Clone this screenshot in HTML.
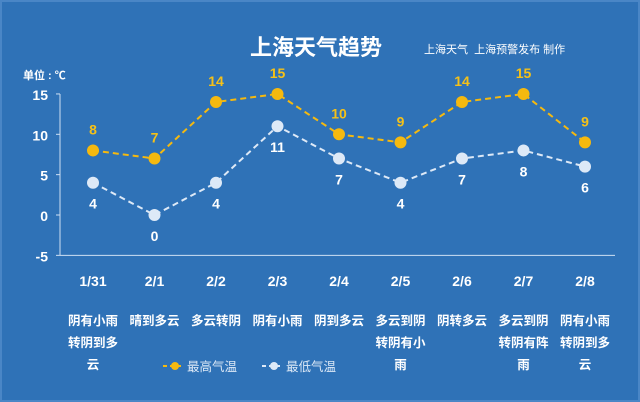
<!DOCTYPE html>
<html><head><meta charset="utf-8"><style>
body{margin:0;width:640px;height:402px;overflow:hidden;background:#2e6fb5;font-family:"Liberation Sans","Noto Sans CJK SC",sans-serif}
.t{position:absolute;color:#fff;font-weight:bold;white-space:nowrap}
</style></head><body>
<div style="position:absolute;left:0;top:0;width:636px;height:398px;border:2px solid #4a86c6;background:#2f72b7"></div>
<div class="t" style="left:250px;top:30px;font-size:22px">上海天气趋势</div>
<div class="t" style="left:424px;top:41px;font-size:11px;font-weight:normal">上海天气&nbsp; 上海预警发布 制作</div>
<div class="t" style="left:23px;top:67px;font-size:11px">单位 : ℃</div>
<svg id="c" width="640" height="402" style="position:absolute;left:0;top:0"></svg>
<script>
const dates=["1/31","2/1","2/2","2/3","2/4","2/5","2/6","2/7","2/8"];
const highs=[8,7,14,15,10,9,14,15,9];
const lows=[4,0,4,11,7,4,7,8,6];
const weather=[["阴有小雨","转阴到多","云"],["晴到多云"],["多云转阴"],["阴有小雨"],["阴到多云"],["多云到阴","转阴有小","雨"],["阴转多云"],["多云到阴","转阴有阵","雨"],["阴有小雨","转阴到多","云"]];
const yTicks=[15,10,5,0,-5];
const svg=document.getElementById('c');const NS="http://www.w3.org/2000/svg";
const x=i=>93+i*61.5, y=v=>215-v*8.07;
function mk(t,a,txt){const e=document.createElementNS(NS,t);for(const k in a)e.setAttribute(k,a[k]);if(txt!=null)e.textContent=txt;svg.appendChild(e);return e;}
let e=mk('line',{x1:60,y1:y(15),x2:60,y2:y(-5),stroke:'#cfe0f3','stroke-width':1});

e=mk('line',{x1:60,y1:y(-5),x2:615,y2:y(-5),stroke:'#cfe0f3','stroke-width':1});

yTicks.forEach(v=>{
 mk('line',{x1:56,y1:y(v),x2:60,y2:y(v),stroke:'#cfe0f3'});
 e=mk('text',{x:48,y:y(v)+6,'text-anchor':'end',fill:'#fff','font-size':14,'font-weight':'bold'},v);
 
});
function series(vals,col,name,above){
 e=mk('polyline',{points:vals.map((v,i)=>x(i)+','+y(v)).join(' '),fill:'none',stroke:col,'stroke-width':2,'stroke-dasharray':'6,4'});
 
 vals.forEach((v,i)=>{
  e=mk('circle',{cx:x(i),cy:y(v),r:6,fill:col});
  
  e=mk('text',{x:x(i),y:above?y(v)-16:y(v)+26,'text-anchor':'middle',fill:above?'#f5c118':'#fff','font-size':14,'font-weight':'bold'},v);
  
 });
}
series(lows,'#dde9f7','low-temp',false);
series(highs,'#f5b90f','high-temp',true);
dates.forEach((d,i)=>{
 e=mk('text',{x:x(i),y:286,'text-anchor':'middle',fill:'#fff','font-size':14,'font-weight':'bold'},d);
 
 weather[i].forEach((w,j)=>{
  e=mk('text',{x:x(i),y:325+j*22,'text-anchor':'middle',fill:'#fff','font-size':12.5,'font-weight':'bold'},w);
  
 });
});
[[163,'#f5b90f','最高气温','legend-high'],[262,'#dde9f7','最低气温','legend-low']].forEach(l=>{
 mk('line',{x1:l[0],y1:366,x2:l[0]+20,y2:366,stroke:l[1],'stroke-width':2,'stroke-dasharray':'4,3'});
 mk('circle',{cx:l[0]+12,cy:366,r:4,fill:l[1]});
 e=mk('text',{x:l[0]+24,y:371,fill:'#dde9f7','font-size':12.5},l[2]);
 
});
</script>
</body></html>
